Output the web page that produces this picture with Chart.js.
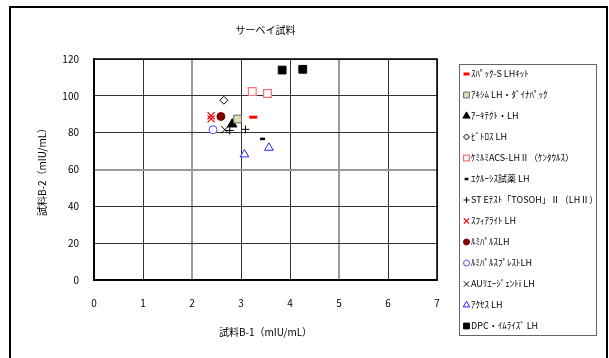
<!DOCTYPE html>
<html>
<head>
<meta charset="utf-8">
<script src="https://cdn.jsdelivr.net/npm/chart.js@4.4.0/dist/chart.umd.min.js"></script>
<style>
  html, body { margin: 0; padding: 0; background: #fff; }
  #wrap { width: 609px; height: 358px; }
</style>
</head>
<body>
<div id="wrap"><canvas id="survey"></canvas></div>
<script>
// series names (legend order)
const seriesNames = [
  'ｽﾊﾟｯｸ-S LHｷｯﾄ',
  'ｱｷｼﾑ LH・ﾀﾞｲﾅﾊﾟｯｸ',
  'ｱｰｷﾃｸﾄ・LH',
  'ﾋﾞﾄﾛｽ LH',
  'ｹﾐﾙﾐACS-LHⅡ（ｹﾝﾀｳﾙｽ）',
  'ｴｸﾙｰｼｽ試薬 LH',
  'ST Eﾃｽﾄ「TOSOH」Ⅱ（LHⅡ）',
  'ｽﾌｨｱﾗｲﾄ LH',
  'ﾙﾐﾊﾟﾙｽLH',
  'ﾙﾐﾊﾟﾙｽﾌﾟﾚｽﾄLH',
  'AUﾘｴｰｼﾞｪﾝﾄi LH',
  'ｱｸｾｽ LH',
  'DPC・ｲﾑﾗｲｽﾞ LH'
];

// 試料B-1 (x) / 試料B-2 (y), mIU/mL
const spacX = [3.25],        spacY = [88.4];
const axsymX = [2.93],       axsymY = [87.4];
const architectX = [2.82],   architectY = [84.6];
const vidasX = [2.65],       vidasY = [97.6];
const chemiX = [3.23, 3.54], chemiY = [102.3, 101.3];
const elecsysX = [3.44],     elecsysY = [76.6];
const stX = [2.77, 3.09],    stY = [81.2, 81.8];
const sphereX = [2.39, 2.39], sphereY = [89.2, 87.5];
const lumiX = [2.59],        lumiY = [88.8];
const prestoX = [2.43],      prestoY = [81.6];
const auX = [2.67],          auY = [81.6];
const accessX = [3.07, 3.57], accessY = [68.2, 71.8];
const dpcX = [3.84, 4.26],   dpcY = [114.0, 114.4];

const xMin = 0, xMax = 7, xStep = 1;
const yMin = 0, yMax = 120, yStep = 20;

function pts(xs, ys) {
  return xs.map((x, i) => ({ x: x, y: ys[i] }));
}

const seriesData = [
  pts(spacX, spacY), pts(axsymX, axsymY), pts(architectX, architectY),
  pts(vidasX, vidasY), pts(chemiX, chemiY), pts(elecsysX, elecsysY),
  pts(stX, stY), pts(sphereX, sphereY), pts(lumiX, lumiY),
  pts(prestoX, prestoY), pts(auX, auY), pts(accessX, accessY), pts(dpcX, dpcY)
];

// marker look for each series
const markers = [
  { style: 'line',     r: 4,   bg: '#ff0000', bc: '#ff0000', bw: 3 },
  { style: 'rect',     r: 5.5, bg: '#d4dfbd', bc: '#6b6b5a', bw: 1 },
  { style: 'triangle', r: 5.5, bg: '#000000', bc: '#000000', bw: 1 },
  { style: 'rectRot',  r: 4,   bg: '#ffffff', bc: '#000000', bw: 1 },
  { style: 'rect',     r: 5.5, bg: '#ffffff', bc: '#ff7070', bw: 1.2 },
  { style: 'line',     r: 2.5, bg: '#000000', bc: '#000000', bw: 2.5 },
  { style: 'cross',    r: 4,   bg: '#000000', bc: '#000000', bw: 1 },
  { style: 'crossRot', r: 5,   bg: '#ff0000', bc: '#ff0000', bw: 1.2 },
  { style: 'circle',   r: 4,   bg: '#800000', bc: '#800000', bw: 1 },
  { style: 'circle',   r: 4,   bg: '#ffffff', bc: '#5050ff', bw: 1 },
  { style: 'crossRot', r: 5,   bg: '#000000', bc: '#000000', bw: 1 },
  { style: 'triangle', r: 5,   bg: '#ffffff', bc: '#2020ff', bw: 1 },
  { style: 'rect',     r: 5.5, bg: '#000000', bc: '#000000', bw: 1 }
];

const jpFont = '"Noto Sans CJK JP", "Noto Sans", sans-serif';

// outer frame, plot frame and boxed legend
const framePlugin = {
  id: 'framePlugin',
  afterDraw(chart) {
    const ctx = chart.ctx;
    const a = chart.chartArea;
    ctx.save();
    // outer frame
    ctx.strokeStyle = '#000';
    ctx.lineWidth = 2;
    ctx.strokeRect(10, 7, 597, 360);
    // plot frame
    ctx.lineWidth = 1.5;
    ctx.strokeRect(a.left, a.top, a.right - a.left, a.bottom - a.top);
    // legend box
    ctx.strokeStyle = '#666';
    ctx.lineWidth = 1;
    ctx.strokeRect(459.5, 64.5, 137, 271);
    ctx.font = '9px ' + jpFont;
    ctx.textBaseline = 'middle';
    ctx.textAlign = 'left';
    chart.data.datasets.forEach((ds, i) => {
      const y = 74 + i * 21;
      const m = markers[i];
      ctx.fillStyle = m.bg;
      ctx.strokeStyle = m.bc;
      ctx.lineWidth = m.bw;
      Chart.helpers.drawPoint(ctx, {
        pointStyle: m.style, radius: m.r * 0.75, rotation: 0, borderWidth: m.bw
      }, 466.5, y);
      ctx.fillStyle = '#000';
      ctx.fillText(ds.label, 471, y);
    });
    ctx.restore();
  }
};

const ctx = document.getElementById('survey').getContext('2d');
new Chart(ctx, {
  type: 'scatter',
  data: {
    datasets: seriesNames.map((name, i) => ({
      label: name,
      data: seriesData[i],
      pointStyle: markers[i].style,
      pointRadius: markers[i].r,
      pointHoverRadius: markers[i].r,
      backgroundColor: markers[i].bg,
      borderColor: markers[i].bc,
      borderWidth: markers[i].bw
    }))
  },
  options: {
    responsive: true,
    maintainAspectRatio: false,
    animation: false,
    layout: { padding: { left: 0, right: 172, top: 0, bottom: 0 } },
    plugins: {
      legend: { display: false },
      tooltip: { enabled: false },
      title: {
        display: true,
        text: 'サーベイ試料',
        fullSize: false,
        color: '#000',
        font: { family: jpFont, size: 10, weight: 'normal' },
        padding: { top: 24, bottom: 23 }
      }
    },
    scales: {
      x: {
        type: 'linear',
        min: xMin, max: xMax,
        afterFit: (s) => { s.height = 78; },
        ticks: { stepSize: xStep, padding: 17, color: '#000', font: { family: jpFont, size: 10 } },
        grid: {
          drawTicks: false,
          color: (c) => (c.tick && (c.tick.value === 2 || c.tick.value === 5)) ? '#9a9a9a' : '#333',
          lineWidth: (c) => (c.tick && (c.tick.value === 2 || c.tick.value === 5)) ? 2 : 1
        },
        border: { color: '#000', width: 1.5 },
        title: {
          display: true, text: '試料B-1（mIU/mL）', color: '#000',
          font: { family: jpFont, size: 10 }, padding: { top: 0, bottom: 20 }
        }
      },
      y: {
        type: 'linear',
        min: yMin, max: yMax,
        afterFit: (s) => { s.width = 94; },
        ticks: { stepSize: yStep, padding: 15, color: '#000', font: { family: jpFont, size: 10 } },
        grid: {
          drawTicks: false,
          color: (c) => (c.tick && c.tick.value === 60) ? '#9a9a9a' : '#333',
          lineWidth: (c) => (c.tick && c.tick.value === 60) ? 2 : 1
        },
        border: { color: '#000', width: 1.5 },
        title: {
          display: true, text: '試料B-2（mIU/mL）', color: '#000',
          font: { family: jpFont, size: 10 }, padding: { top: 36, bottom: 0 }
        }
      }
    }
  },
  plugins: [framePlugin]
});
</script>
</body>
</html>
